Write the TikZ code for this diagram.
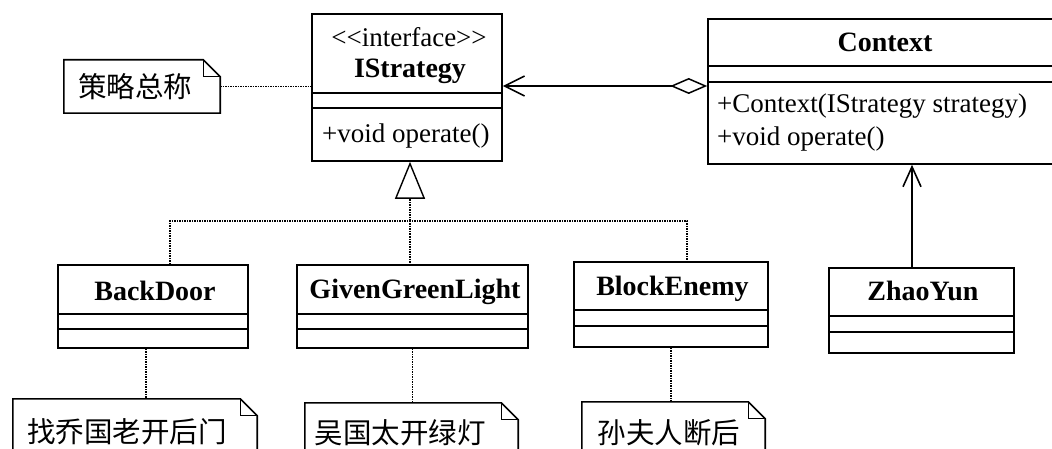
\documentclass[tikz,border=0pt]{standalone}
\usepackage{fontspec}
\setmainfont{Liberation Serif}
\newfontfamily\cjk{Noto Sans CJK SC}
\usetikzlibrary{arrows.meta,calc}
\tikzset{
  cls/.style={draw, line width=1.6pt, inner sep=0pt},
  notebox/.style={inner sep=0pt},
  txt/.style={inner sep=0pt, font=\fontsize{27}{30}\selectfont},
  btxt/.style={inner sep=0pt, font=\fontsize{28}{30}\selectfont\bfseries},
  ctxt/.style={inner sep=0pt, font=\fontsize{28.5}{30}\selectfont\cjk},
  dep/.style={line width=1.3pt, dash pattern=on 1.5pt off 1pt},
  divider/.style={line width=1.6pt},
  noteline/.style={line width=1.6pt},
}
\newcommand\drawnote[1]{%
  \draw[noteline] (#1.south west) -- (#1.north west) -- ([xshift=-17pt]#1.north east) -- ([yshift=-17pt]#1.north east) -- (#1.south east) -- cycle;
  \draw[line width=1.2pt] ([xshift=-17pt]#1.north east) -- ([xshift=-17pt,yshift=-17pt]#1.north east) -- ([yshift=-17pt]#1.north east);}
\newcommand\dividers[3]{%
  \draw[divider] ($(#1.north west)+(0,#2)$) -- ($(#1.north east)+(0,#2)$);
  \draw[divider] ($(#1.north west)+(0,#3)$) -- ($(#1.north east)+(0,#3)$);}
\begin{document}
\begin{tikzpicture}[x=1pt,y=-1pt]
\useasboundingbox (0,0) rectangle (1052,449);
\clip (0,0) rectangle (1052,449);
\fill[white] (0,0) rectangle (1052,449);

% classes
\node[cls, minimum width=190pt, minimum height=147pt] (istr) at (407,87.5) {};
\dividers{istr}{80}{95}
\node[txt, anchor=base] (istrS) at (409,47) {<{}<interface>{}>};
\node[btxt, anchor=base] (istrN) at (410,78) {IStrategy};
\node[txt, anchor=base west] (istrM) at (322,143) {+void operate()};

\node[cls, minimum width=354pt, minimum height=145pt] (ctx) at (885,91.5) {};
\dividers{ctx}{48}{64}
\node[btxt, anchor=base] (ctxN) at (885,52) {Context};
\node[txt, anchor=base west] (ctxM1) at (717,113) {+Context(IStrategy strategy)};
\node[txt, anchor=base west] (ctxM2) at (717,146) {+void operate()};

\node[cls, minimum width=190pt, minimum height=83pt] (bd) at (153,306.5) {};
\dividers{bd}{50}{65}
\node[btxt, anchor=base] (bdN) at (155,300) {BackDoor};

\node[cls, minimum width=231pt, minimum height=83pt] (ggl) at (412.5,306.5) {};
\dividers{ggl}{50}{65}
\node[btxt, anchor=base] (gglN) at (415,298) {GivenGreenLight};

\node[cls, minimum width=194pt, minimum height=85pt] (be) at (671,304.5) {};
\dividers{be}{49}{65}
\node[btxt, anchor=base] (beN) at (672.5,295) {BlockEnemy};

\node[cls, minimum width=185pt, minimum height=85pt] (zy) at (921.5,310.5) {};
\dividers{zy}{49}{65}
\node[btxt, anchor=base] (zyN) at (923,300) {ZhaoYun};

% notes
\node[notebox, minimum width=156pt, minimum height=53pt] (n0) at (142,86.5) {};
\drawnote{n0}
\node[ctxt] (n0t) at (135,87) {策略总称};

\node[notebox, minimum width=244pt, minimum height=66pt] (n1) at (135,432) {};
\drawnote{n1}
\node[ctxt] (n1t) at (127,432) {找乔国老开后门};

\node[notebox, minimum width=213pt, minimum height=60pt] (n2) at (411.5,433) {};
\drawnote{n2}
\node[ctxt] (n2t) at (400,433) {吴国太开绿灯};

\node[notebox, minimum width=183pt, minimum height=62pt] (n3) at (673.5,433) {};
\drawnote{n3}
\node[ctxt] (n3t) at (669,433) {孙夫人断后};

% connectors
\draw[dep] (n0.east) -- (n0.east -| istr.west);
\draw[line width=1.6pt, {Diamond[fill=white,length=37pt,width=16pt,line width=1.5pt]}-{Straight Barb[length=20pt,width=20pt,line width=1.6pt]}]
  ([yshift=5.5pt]ctx.west) -- ([yshift=5.5pt]ctx.west -| istr.east);
\draw[line width=1.6pt, -{Straight Barb[length=20pt,width=18pt,line width=1.6pt]}]
  ([xshift=-9.5pt]zy.north) -- ([xshift=-9.5pt]zy.north |- ctx.south);

\coordinate (gen) at (410,221);
\draw[dep, -{Triangle[fill=white,length=37pt,width=30pt,line width=1.4pt]}] (gen) -- (gen |- istr.south);
\draw[dep] ([xshift=17pt]bd.north) |- (gen) -| ([xshift=16pt]be.north);
\draw[dep] (gen) -- (gen |- ggl.north);

\draw[dep] ([xshift=-7pt]bd.south) -- ([xshift=-7pt]bd.south |- n1.north);
\draw[dep] (ggl.south) -- (ggl.south |- n2.north);
\draw[dep] (be.south) -- (be.south |- n3.north);
\end{tikzpicture}
\end{document}
